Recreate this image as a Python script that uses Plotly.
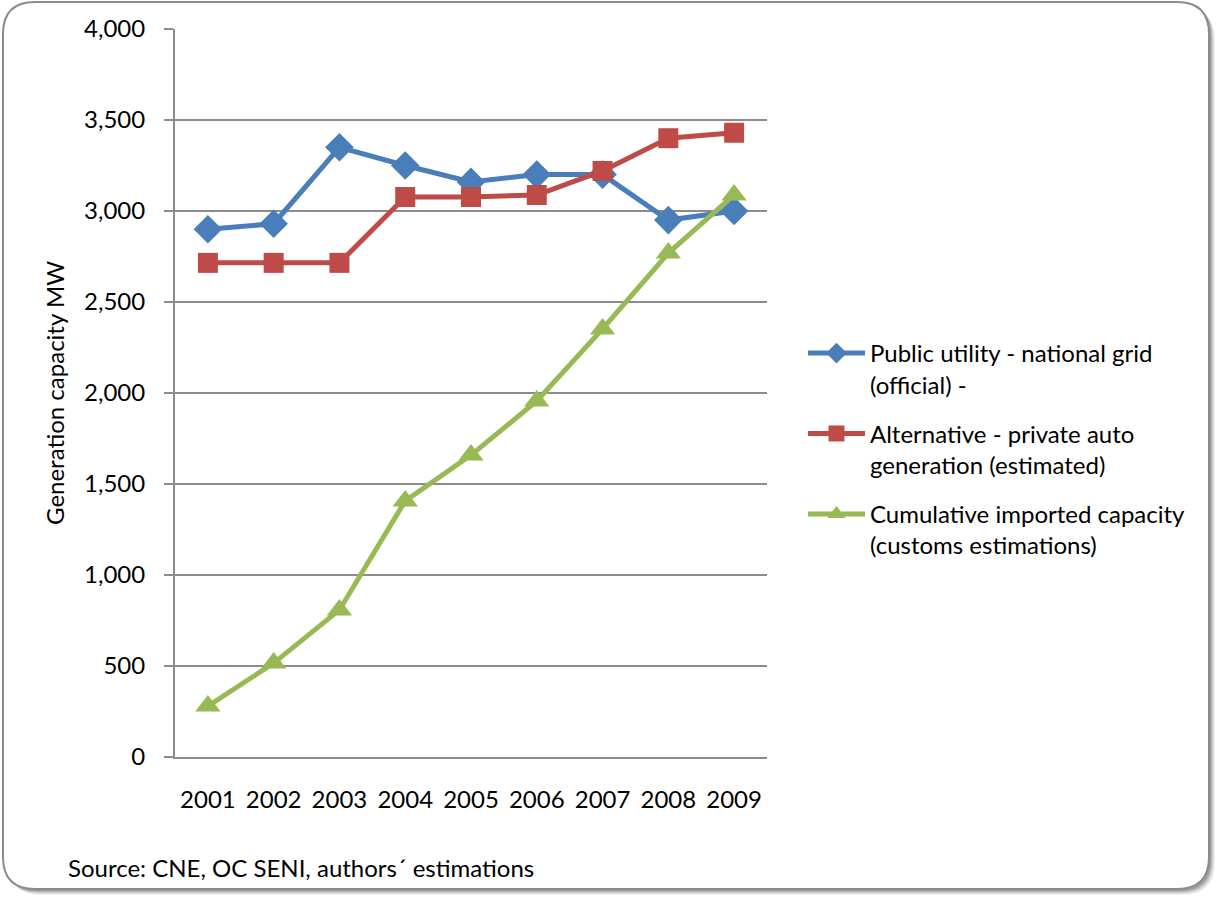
import plotly.graph_objects as go

years = ["2001", "2002", "2003", "2004", "2005", "2006", "2007", "2008", "2009"]
public_utility = [2900, 2930, 3350, 3250, 3160, 3200, 3200, 2950, 3000]
alternative = [2715, 2715, 2715, 3077, 3077, 3088, 3220, 3400, 3430]
imported = [280, 516, 808, 1407, 1659, 1956, 2352, 2769, 3088]
names = ["Public utility - national grid<br>(official) -",
         "Alternative - private auto<br>generation (estimated)",
         "Cumulative imported capacity<br>(customs estimations)"]
y_ticks = [0, 500, 1000, 1500, 2000, 2500, 3000, 3500, 4000]

W, H = 1217, 898
L, R, T, B = 175, 767, 29, 757
FONT = "Lato, Carlito, Calibri, sans-serif"
FS = 24

fig = go.Figure()
series = [
    (public_utility, "#4A7EBB", "diamond", 22),
    (alternative, "#BE4B48", "square", 20),
    (imported, "#98B954", "triangle-up", 22),
]
for i, (vals, col, sym, sz) in enumerate(series):
    fig.add_trace(go.Scatter(
        x=years, y=vals, name=names[i], mode="lines+markers",
        line=dict(color=col, width=5),
        marker=dict(symbol=sym, size=sz, color=col),
        legendgroup="g%d" % i,
    ))

def px(x):
    return (x - L) / (R - L)

def py(y):
    return (B - y) / (B - T)

def rounded(x0, y0, x1, y1, r):
    return ("M %f,%f L %f,%f Q %f,%f %f,%f L %f,%f Q %f,%f %f,%f L %f,%f Q %f,%f %f,%f L %f,%f Q %f,%f %f,%f Z" % (
        px(x0 + r), py(y0), px(x1 - r), py(y0), px(x1), py(y0), px(x1), py(y0 + r),
        px(x1), py(y1 - r), px(x1), py(y1), px(x1 - r), py(y1),
        px(x0 + r), py(y1), px(x0), py(y1), px(x0), py(y1 - r),
        px(x0), py(y0 + r), px(x0), py(y0), px(x0 + r), py(y0)))

shapes = []
for k, c in [(6, "rgba(0,0,0,0.05)"), (5, "rgba(0,0,0,0.07)"), (4, "rgba(0,0,0,0.09)"),
             (3, "rgba(0,0,0,0.11)"), (2, "rgba(0,0,0,0.13)")]:
    shapes.append(dict(type="path", xref="paper", yref="paper", layer="below",
                       path=rounded(3 + k, 2 + k, 1209 + k, 889 + k, 32),
                       line=dict(width=0), fillcolor=c))
shapes.append(dict(type="path", xref="paper", yref="paper", layer="below",
                   path=rounded(3, 2, 1209, 889, 32),
                   line=dict(color="#8C8C8C", width=2), fillcolor="white"))

fig.update_layout(
    width=W, height=H,
    margin=dict(l=L, r=W - R, t=T, b=H - B, autoexpand=False),
    paper_bgcolor="rgba(0,0,0,0)", plot_bgcolor="rgba(0,0,0,0)",
    font=dict(family=FONT, size=FS, color="#000000"),
    shapes=shapes,
    showlegend=True,
    legend=dict(x=px(803), y=py(331), xanchor="left", yanchor="top",
                font=dict(family=FONT, size=FS, color="#000000"),
                itemwidth=57, valign="top", tracegroupgap=15,
                bgcolor="rgba(0,0,0,0)"),
    xaxis=dict(type="category", range=[-0.5, 8.5], showgrid=False,
               showline=True, linecolor="#8C8C8C", linewidth=2,
               ticks="", ticklabelstandoff=20, tickfont=dict(size=FS),
               zeroline=False, fixedrange=True),
    yaxis=dict(range=[0, 4000], tickvals=y_ticks, tickformat=",d",
               showgrid=True, gridcolor="#8C8C8C", gridwidth=1.5,
               showline=True, linecolor="#8C8C8C", linewidth=2,
               ticks="outside", ticklen=9, tickcolor="#8C8C8C", tickwidth=1.5,
               ticklabelstandoff=14, tickfont=dict(size=FS),
               zeroline=False, automargin=False,
               title=dict(text="Generation capacity MW", standoff=13,
                          font=dict(size=FS))),
    annotations=[dict(text="Source: CNE, OC SENI, authors\u00b4 estimations",
                      xref="paper", yref="paper", x=px(66), y=py(868),
                      xanchor="left", yanchor="middle", showarrow=False,
                      font=dict(family=FONT, size=FS, color="#000000"))],
)

fig.write_html("out.html")
